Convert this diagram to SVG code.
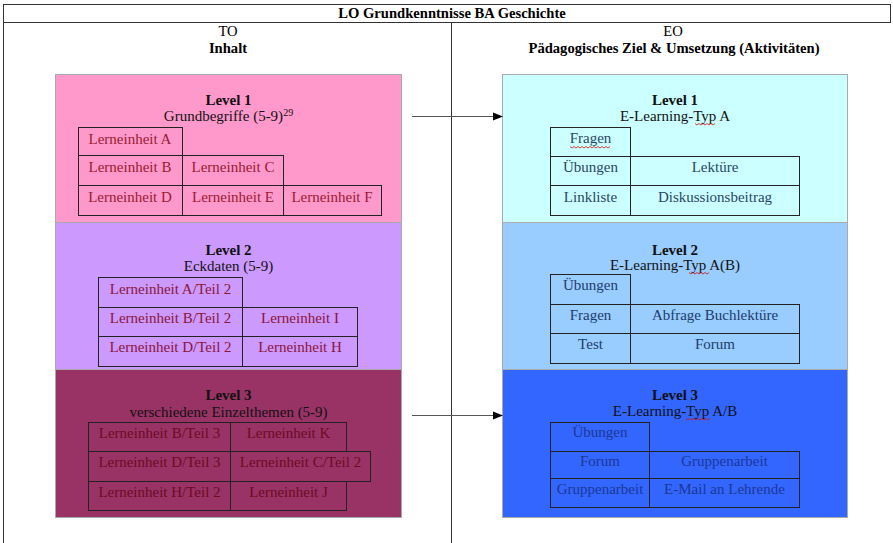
<svg xmlns="http://www.w3.org/2000/svg" width="893" height="543" viewBox="0 0 893 543">
<defs>
<style>
text{font-family:"Liberation Serif","Times New Roman",serif;font-size:15px;text-anchor:middle}
.hd{font-weight:bold;font-size:14.6px;fill:#000}
.hn{font-size:14.6px;fill:#000}
.lv{font-weight:bold;fill:#111}
.sub{fill:#111}
.frame{stroke:#333;stroke-width:1;fill:none}
.box{stroke:#aaa;stroke-width:1}
.cell{fill:none;stroke:#222;stroke-width:1}
.t1{fill:#9b1b30}
.t2{fill:#8b1538}
.t3{fill:#6e0a22}
.r1{fill:#2a4766}
.r2{fill:#203c6a}
.r3{fill:#1b3896}
.wave{fill:none;stroke:#d01010;stroke-width:0.8}
.conn{stroke:#555;stroke-width:1.2;fill:none}
</style>
<marker id="ah" markerWidth="10" markerHeight="10" refX="9" refY="5" orient="auto" markerUnits="userSpaceOnUse">
<path d="M0,1 L10,5 L0,9 Z" fill="#000"/>
</marker>
</defs>
<rect x="0" y="0" width="893" height="543" fill="#fff"/>
<g id="table-frame">
<line class="frame" x1="3" y1="4.5" x2="891" y2="4.5"/>
<line class="frame" x1="3" y1="22.5" x2="891" y2="22.5"/>
<line class="frame" x1="3.5" y1="4" x2="3.5" y2="543"/>
<line class="frame" x1="890.5" y1="4" x2="890.5" y2="22"/>
<line class="frame" x1="451.5" y1="22" x2="451.5" y2="543"/>
<text class="hd" x="452" y="18">LO Grundkenntnisse BA Geschichte</text>
<text class="hn" x="228" y="36">TO</text>
<text class="hd" x="228" y="53">Inhalt</text>
<text class="hn" x="673" y="36">EO</text>
<text class="hd" x="674" y="53">Pädagogisches Ziel &amp; Umsetzung (Aktivitäten)</text>
</g>
<g id="to-level1">
<rect class="box" x="55.5" y="74.5" width="346" height="148" fill="#ff99cc"/>
<text class="lv" x="228.5" y="105">Level 1</text>
<text class="sub" x="228.5" y="121">Grundbegriffe (5-9)<tspan font-size="10" dy="-5">29</tspan></text>
<rect class="cell" x="78.5" y="127.5" width="104" height="28"/>
<rect class="cell" x="78.5" y="155.5" width="104" height="30"/>
<rect class="cell" x="182.5" y="155.5" width="101" height="30"/>
<rect class="cell" x="78.5" y="185.5" width="104" height="30"/>
<rect class="cell" x="182.5" y="185.5" width="101" height="30"/>
<rect class="cell" x="283.5" y="185.5" width="98" height="30"/>
<text class="t1" x="130" y="144">Lerneinheit A</text>
<text class="t1" x="130" y="172">Lerneinheit B</text>
<text class="t1" x="233" y="172">Lerneinheit C</text>
<text class="t1" x="130" y="202">Lerneinheit D</text>
<text class="t1" x="233" y="202">Lerneinheit E</text>
<text class="t1" x="332" y="202">Lerneinheit F</text>
</g>
<g id="to-level2">
<rect class="box" x="55.5" y="222.5" width="346" height="147" fill="#cc99ff"/>
<text class="lv" x="228.5" y="255">Level 2</text>
<text class="sub" x="228.5" y="271">Eckdaten (5-9)</text>
<rect class="cell" x="98.5" y="277.5" width="144" height="30"/>
<rect class="cell" x="98.5" y="307.5" width="144" height="29"/>
<rect class="cell" x="242.5" y="307.5" width="115" height="29"/>
<rect class="cell" x="98.5" y="336.5" width="144" height="30"/>
<rect class="cell" x="242.5" y="336.5" width="115" height="30"/>
<text class="t2" x="170.5" y="294">Lerneinheit A/Teil 2</text>
<text class="t2" x="170.5" y="323">Lerneinheit B/Teil 2</text>
<text class="t2" x="300" y="323">Lerneinheit I</text>
<text class="t2" x="170.5" y="352">Lerneinheit D/Teil 2</text>
<text class="t2" x="300" y="352">Lerneinheit H</text>
</g>
<g id="to-level3">
<rect class="box" x="55.5" y="369.5" width="346" height="148" fill="#993366"/>
<text class="lv" x="228.5" y="400">Level 3</text>
<text class="sub" x="228.5" y="417">verschiedene Einzelthemen (5-9)</text>
<rect class="cell" x="88.5" y="422.5" width="142" height="29"/>
<rect class="cell" x="230.5" y="422.5" width="116" height="29"/>
<rect class="cell" x="88.5" y="451.5" width="142" height="30"/>
<rect class="cell" x="230.5" y="451.5" width="140" height="30"/>
<rect class="cell" x="88.5" y="481.5" width="142" height="29"/>
<rect class="cell" x="230.5" y="481.5" width="116" height="29"/>
<text class="t3" x="159.5" y="438">Lerneinheit B/Teil 3</text>
<text class="t3" x="288.5" y="438">Lerneinheit K</text>
<text class="t3" x="159.5" y="467">Lerneinheit D/Teil 3</text>
<text class="t3" x="300.5" y="467">Lerneinheit C/Teil 2</text>
<text class="t3" x="159.5" y="497">Lerneinheit H/Teil 2</text>
<text class="t3" x="288.5" y="497">Lerneinheit J</text>
</g>
<g id="eo-level1">
<rect class="box" x="502.5" y="74.5" width="345" height="148" fill="#ccffff"/>
<text class="lv" x="675" y="105">Level 1</text>
<text class="sub" x="675" y="121">E-Learning-Typ A</text>
<path class="wave" d="M695,123.5 l2,1.5 l2,-1.5 l2,1.5 l2,-1.5 l2,1.5 l2,-1.5 l2,1.5 l2,-1.5 l2,1.5 l2,-1.5"/>
<rect class="cell" x="550.5" y="127.5" width="80" height="29"/>
<rect class="cell" x="550.5" y="156.5" width="80" height="29"/>
<rect class="cell" x="630.5" y="156.5" width="169" height="29"/>
<rect class="cell" x="550.5" y="185.5" width="80" height="30"/>
<rect class="cell" x="630.5" y="185.5" width="169" height="30"/>
<text class="r1" x="590.5" y="143">Fragen</text>
<path class="wave" d="M570,146.5 l2,1.5 l2,-1.5 l2,1.5 l2,-1.5 l2,1.5 l2,-1.5 l2,1.5 l2,-1.5 l2,1.5 l2,-1.5 l2,1.5 l2,-1.5 l2,1.5 l2,-1.5 l2,1.5 l2,-1.5 l2,1.5 l2,-1.5 l2,1.5 l2,-1.5"/>
<text class="r1" x="590.5" y="172">Übungen</text>
<text class="r1" x="715" y="172">Lektüre</text>
<text class="r1" x="590.5" y="202">Linkliste</text>
<text class="r1" x="715" y="202">Diskussionsbeitrag</text>
</g>
<g id="eo-level2">
<rect class="box" x="502.5" y="222.5" width="345" height="147" fill="#99ccff"/>
<text class="lv" x="675" y="255">Level 2</text>
<text class="sub" x="675" y="270">E-Learning-Typ A(B)</text>
<path class="wave" d="M689,272.5 l2,1.5 l2,-1.5 l2,1.5 l2,-1.5 l2,1.5 l2,-1.5 l2,1.5 l2,-1.5 l2,1.5 l2,-1.5"/>
<rect class="cell" x="550.5" y="274.5" width="80" height="30"/>
<rect class="cell" x="550.5" y="304.5" width="80" height="29"/>
<rect class="cell" x="630.5" y="304.5" width="169" height="29"/>
<rect class="cell" x="550.5" y="333.5" width="80" height="30"/>
<rect class="cell" x="630.5" y="333.5" width="169" height="30"/>
<text class="r2" x="590.5" y="290">Übungen</text>
<text class="r2" x="590.5" y="320">Fragen</text>
<text class="r2" x="715" y="320">Abfrage Buchlektüre</text>
<text class="r2" x="590.5" y="349">Test</text>
<text class="r2" x="715" y="349">Forum</text>
</g>
<g id="eo-level3">
<rect class="box" x="502.5" y="369.5" width="345" height="148" fill="#3366ff"/>
<text class="lv" x="675" y="400">Level 3</text>
<text class="sub" x="675" y="416">E-Learning-Typ A/B</text>
<path class="wave" d="M686,418.5 l2,1.5 l2,-1.5 l2,1.5 l2,-1.5 l2,1.5 l2,-1.5 l2,1.5 l2,-1.5 l2,1.5 l2,-1.5 l2,1.5 l2,-1.5"/>
<rect class="cell" x="550.5" y="422.5" width="99" height="29"/>
<rect class="cell" x="550.5" y="451.5" width="99" height="27"/>
<rect class="cell" x="649.5" y="451.5" width="150" height="27"/>
<rect class="cell" x="550.5" y="478.5" width="99" height="29"/>
<rect class="cell" x="649.5" y="478.5" width="150" height="29"/>
<text class="r3" x="600" y="437">Übungen</text>
<text class="r3" x="600" y="466">Forum</text>
<text class="r3" x="724.5" y="466">Gruppenarbeit</text>
<text class="r3" x="600" y="494">Gruppenarbeit</text>
<text class="r3" x="724.5" y="494">E-Mail an Lehrende</text>
</g>
<g id="connectors">
<line class="conn" x1="412" y1="116.5" x2="502" y2="116.5" marker-end="url(#ah)"/>
<line class="conn" x1="412" y1="415.5" x2="502" y2="415.5" marker-end="url(#ah)"/>
</g>
</svg>
